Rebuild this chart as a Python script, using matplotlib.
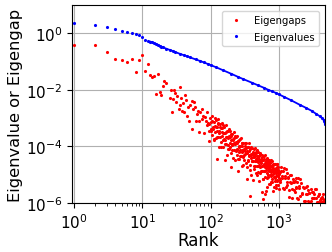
import matplotlib
matplotlib.use("Agg")
import matplotlib.pyplot as plt

# eigenvalues (rank -> value)
eig_rank = [1, 2, 3, 4, 5, 6, 7, 8, 9, 10, 11, 12, 13, 14, 15, 16, 17, 18, 19, 20,
            22, 25, 28, 30, 35, 40, 45, 50, 60, 70, 80, 90, 100, 120, 150, 200, 250,
            300, 400, 500, 600, 700, 800, 900, 1000, 1200, 1500, 2000, 2500, 3000,
            3500, 4000, 4300, 4500, 4600, 4680, 4730]
eig_val = [2.4, 2.0, 1.63, 1.38, 1.25, 1.14, 1.05, 0.93, 0.88, 0.77, 0.60, 0.55, 0.51,
           0.48, 0.45, 0.42, 0.39, 0.36, 0.34, 0.32, 0.29, 0.26, 0.235, 0.22, 0.19,
           0.17, 0.155, 0.14, 0.12, 0.105, 0.093, 0.083, 0.075, 0.063, 0.050, 0.037,
           0.029, 0.024, 0.018, 0.0143, 0.0119, 0.0100, 0.0088, 0.0078, 0.0069,
           0.0056, 0.0043, 0.0030, 0.0023, 0.00182, 0.00142, 0.00115, 0.00098,
           0.00086, 0.00078, 0.00068, 0.00060]

# eigengaps (rank -> value)
gap_rank = [1, 2, 3, 4, 5, 6, 7, 8, 9, 10, 11, 12, 13, 14, 15, 16, 17, 18, 19, 20,
            21, 22, 25, 26, 27, 28, 29, 30, 31, 32, 34, 35, 36, 37, 38, 39, 40, 42,
            44, 45, 47, 48, 50, 53, 54, 55, 56, 59, 60, 62, 66, 67, 68, 70, 74, 75,
            78, 79, 83, 84, 88, 89, 92, 93, 94,
            96, 98, 100, 102, 104, 106, 108, 110, 112, 114, 116, 118, 120, 122, 123,
            124, 126, 128, 130, 132, 134, 136, 138, 140, 142, 144, 146, 148, 150,
            152, 155, 157, 160, 162, 163, 165, 167, 170, 172, 175, 177, 180, 182,
            185, 187, 190, 192, 195, 197, 200, 201, 203, 205, 208, 210, 213, 216,
            219, 222, 225, 228, 231, 234, 237, 240, 243, 246, 250, 253, 255, 256,
            260, 263, 266, 270, 273, 276, 280, 284, 288, 292, 296, 300,
            305, 311, 317, 323, 329, 335, 338, 341, 347, 353, 359, 365, 371, 377,
            380, 383, 389, 395, 401, 407, 413, 419, 422, 425, 431, 437, 443, 449,
            455, 461, 467, 473, 479, 485, 491, 497, 503, 510, 517, 524, 531, 538,
            545, 552, 559, 562, 566, 573, 580, 587, 590, 594, 601, 608, 615, 622,
            626, 629, 636, 643, 650, 652, 657, 664, 671, 678, 685, 692, 700, 708,
            716, 724, 732, 740, 748, 756, 764, 772, 780, 788, 796, 805, 814, 823,
            832, 841, 850, 860, 870, 880, 890, 900, 910, 920, 930, 940, 950, 960,
            970, 980, 990, 1000,
            1020, 1050, 1080, 1110, 1150, 1190, 1230, 1270, 1310, 1350, 1400, 1450,
            1500, 1550, 1600, 1650, 1700, 1750, 1800, 1860, 1920, 1980, 2050, 2150,
            2250, 2350, 2450, 2550, 2650, 2750, 2850, 2950, 3050, 3150, 3300, 3450,
            3600, 3750, 3900, 4050, 4200, 4350, 4500, 4620,
            101, 105, 109, 113, 117, 121, 125, 129, 133, 137, 141, 145, 149, 153,
            159, 164, 169, 173, 179, 183, 189, 193, 199, 207, 211, 215, 221, 227,
            233, 239, 245, 249, 257, 261, 267, 271, 279, 283, 287, 291, 295, 299,
            308, 314, 320, 326, 332, 344, 350, 356, 362, 368, 374, 386, 392, 398,
            404, 410, 416, 428, 434, 440, 446, 452, 458, 464, 470, 476, 482, 488,
            494, 500, 507, 514, 521, 528, 535, 542, 549, 556, 569, 576, 583, 597,
            604, 611, 618, 632, 639, 646, 660, 667, 674, 681, 688, 696, 704, 712,
            720, 728, 736, 744, 752, 760, 768, 776, 784, 792, 800, 809, 818, 827,
            836, 845, 855, 865, 875, 885, 895, 905, 915, 925, 935, 945, 955, 965,
            975, 985, 995,
            1035, 1065, 1095, 1130, 1170, 1210, 1250, 1290, 1330, 1375, 1425, 1475,
            1525, 1575, 1625, 1675, 1725, 1775, 1830, 1890, 1950, 2010, 2100, 2200,
            2300, 2400, 2500, 2600, 2700, 2800, 2900, 3000, 3100, 3220, 3380, 3520,
            3680, 3820, 3980, 4120, 4280, 4420]
gap_val = [0.39, 0.40, 0.224, 0.127, 0.114, 0.097, 0.127, 0.044, 0.117, 0.176,
           0.045, 0.085, 0.034, 0.028, 0.032, 0.0072, 0.035, 0.0082, 0.0066, 0.014,
           0.020, 0.0175, 0.005, 0.0102, 0.0017, 0.0048, 0.0102, 0.0076, 0.0036,
           0.0063, 0.0021, 0.0124, 0.0028, 0.005, 0.0018, 0.0035, 0.0016, 0.0066,
           0.0045, 0.00123, 0.0024, 0.00082, 0.0028, 0.0042, 0.00042, 0.0021,
           0.0036, 0.0024, 0.00082, 0.0014, 0.0018, 0.00082, 0.00032, 0.0016,
           0.0021, 0.00094, 0.00123, 0.00031, 0.00107, 0.00082, 0.0016, 0.00055,
           0.0007, 0.00036, 0.00016,
           6.0e-4, 1.05e-3, 3.5e-4, 7.4e-4, 2.5e-4, 1.15e-3, 4.2e-4, 7.5e-4, 1.7e-4,
           5.2e-4, 3.2e-4, 8.7e-4, 2.0e-4, 4.8e-4, 3.6e-5, 3.6e-4, 9.5e-4, 2.1e-4,
           6.1e-4, 9.5e-5, 3.6e-4, 6.3e-4, 2.1e-4, 4.3e-4, 1.45e-4, 6.6e-4, 2.3e-4,
           4.4e-4, 9.5e-5, 3.0e-4, 1.85e-4, 4.8e-4, 1.2e-4, 2.9e-4, 3.2e-5, 2.1e-4,
           5.5e-4, 1.2e-4, 3.4e-4, 5.1e-5, 2.0e-4, 3.4e-4, 1.15e-4, 2.3e-4, 8.1e-5,
           3.6e-4, 1.35e-4, 2.4e-4, 5.7e-5, 1.7e-4, 1.85e-5, 1.08e-4, 2.8e-4, 7.4e-5,
           1.7e-4, 1.26e-4, 3.2e-4, 7.3e-5, 2.0e-4, 3.2e-5, 1.2e-4, 2.2e-4, 7.0e-5,
           1.45e-4, 5.0e-5, 2.3e-4, 8.2e-5, 1.5e-4, 3.5e-5, 1.4e-5, 1.07e-4, 6.5e-5,
           1.75e-4, 4.6e-5, 1.03e-4, 7.7e-5, 2.0e-4, 4.4e-5, 1.28e-4, 2.0e-5, 7.5e-5,
           1.35e-4, 4.3e-5,
           8.4e-5, 3.4e-5, 1.35e-4, 5.3e-5, 9.0e-5, 1.9e-5, 7.1e-6, 6.0e-5, 9.9e-5,
           3.4e-5, 1.27e-4, 4.9e-5, 2.2e-5, 7.8e-5, 1.8e-6, 3.9e-5, 5.3e-5, 9.4e-6,
           8.7e-5, 3.0e-5, 5.9e-5, 4.3e-5, 6.3e-6, 5.1e-5, 2.1e-5, 8.0e-5, 3.1e-5,
           5.2e-5, 1.1e-5, 3.6e-5, 5.9e-5, 2.1e-5, 7.6e-5, 2.9e-5, 1.25e-5, 4.6e-5,
           2.25e-5, 3.3e-5, 6.0e-6, 5.3e-5, 1.8e-5, 3.6e-5, 2.65e-5, 3.1e-5, 1.3e-5,
           2.4e-6, 5.0e-5, 2.0e-5, 3.4e-5, 7.0e-6, 1.4e-6, 2.25e-5, 3.7e-5, 1.3e-5,
           4.9e-5, 1.9e-5, 2.1e-6, 8.2e-6, 3.0e-5, 1.45e-5, 2.1e-5, 2.7e-6, 3.8e-6,
           3.5e-5, 1.17e-5, 2.3e-5, 1.75e-5, 2.0e-5, 8.3e-6, 3.3e-5, 1.3e-5, 2.2e-5,
           4.7e-6, 1.5e-5, 2.5e-5, 8.8e-6, 3.3e-5, 1.26e-5, 5.6e-6, 2.0e-5, 9.8e-6,
           1.43e-5, 2.6e-6, 2.4e-5, 8.1e-6, 1.6e-5, 1.22e-5, 1.45e-5, 6.0e-6, 2.3e-5,
           9.2e-6, 1.6e-5, 3.4e-6, 1.1e-5, 1.85e-5, 6.5e-6, 2.4e-5, 9.5e-6, 4.2e-6,
           1.5e-5, 7.6e-6, 1.1e-5,
           1.27e-5, 5.6e-6, 1.8e-5, 7.8e-6, 1.3e-5, 3.0e-6, 7.8e-6, 1.6e-5, 4.4e-6,
           8.4e-6, 2.8e-6, 9.5e-6, 5.0e-6, 1.45e-6, 6.8e-6, 5.6e-6, 2.5e-6, 7.8e-6,
           3.3e-6, 5.6e-6, 1.35e-6, 3.5e-6, 7.2e-6, 2.0e-6, 3.6e-6, 1.2e-6, 3.8e-6,
           2.0e-6, 2.85e-6, 2.3e-6, 1.05e-6, 3.2e-6, 1.45e-6, 2.4e-6, 1.55e-6, 3.1e-6,
           1.12e-6, 1.7e-6, 2.1e-6, 1.1e-6, 1.6e-6, 1.35e-6, 1.15e-6, 1.3e-6,
           4.1e-4, 8.1e-4, 5.0e-4, 1.9e-4, 9.9e-4, 4.9e-4, 2.2e-4, 6.5e-4, 3.1e-4,
           4.7e-4, 9.9e-5, 3.2e-4, 5.5e-4, 1.7e-4, 3.1e-4, 1.65e-4, 3.3e-4, 2.1e-4,
           7.8e-5, 4.1e-4, 2.1e-4, 9.2e-5, 2.7e-4, 1.23e-4, 1.86e-4, 4.0e-5, 1.34e-4,
           2.4e-4, 7.3e-5, 1.34e-4, 7.3e-5, 1.5e-4, 9.5e-5, 3.7e-5, 1.9e-4, 1.02e-4,
           4.5e-5, 1.34e-4, 6.5e-5, 1.0e-4, 2.2e-5, 7.6e-5,
           4.9e-5, 1.02e-4, 6.6e-5, 2.6e-5, 1.36e-4, 7.1e-5, 3.1e-5, 9.4e-5, 4.5e-5,
           7.0e-5, 1.5e-5, 5.1e-5, 9.6e-5, 3.0e-5, 5.6e-5, 3.1e-5, 6.5e-5, 4.1e-5,
           1.6e-5, 8.6e-5, 4.5e-5, 2.0e-5, 6.1e-5, 3.0e-5, 4.6e-5, 1.0e-5, 3.4e-5,
           6.3e-5, 2.0e-5, 3.75e-5, 2.1e-5, 4.4e-5, 2.85e-5, 1.1e-5, 5.9e-5, 3.2e-5,
           1.4e-5, 4.3e-5, 2.1e-5, 3.2e-5, 7.0e-6, 2.4e-5, 4.4e-5, 1.4e-5, 2.6e-5,
           1.4e-5, 3.0e-5, 1.9e-5, 7.4e-6, 4.0e-5, 2.1e-5, 9.6e-6, 2.9e-5, 1.43e-5,
           2.2e-5, 4.8e-6, 1.66e-5, 3.1e-5, 9.9e-6, 1.85e-5, 1.0e-5, 2.1e-5, 1.4e-5,
           5.5e-6, 3.0e-5, 1.6e-5, 7.2e-6, 2.2e-5, 1.07e-5, 1.7e-5, 3.7e-6, 1.28e-5,
           2.4e-5, 7.7e-6, 1.46e-5, 8.1e-6, 1.7e-5, 1.13e-5, 4.4e-6, 2.4e-5, 1.3e-5,
           5.8e-6, 1.8e-5, 8.8e-6, 1.38e-5, 3.0e-6, 1.05e-5,
           6.7e-6, 1.4e-5, 8.9e-6, 3.4e-6, 1.7e-5, 8.9e-6, 3.8e-6, 1.1e-5, 5.3e-6,
           7.8e-6, 1.6e-6, 5.4e-6, 9.8e-6, 3.0e-6, 5.5e-6, 2.9e-6, 6.0e-6, 3.8e-6,
           1.45e-6, 7.5e-6, 4.0e-6, 1.75e-6, 4.9e-6, 2.25e-6, 3.3e-6, 1.15e-6,
           2.15e-6, 3.9e-6, 1.2e-6, 2.2e-6, 1.15e-6, 2.4e-6, 1.55e-6, 2.0e-6, 3.0e-6,
           1.55e-6, 1.1e-6, 2.0e-6, 1.25e-6, 1.45e-6, 1.1e-6, 2.0e-6]

fig = plt.figure(figsize=(3.32, 2.53), dpi=100)
ax = fig.add_axes([0.217, 0.194, 0.762, 0.782])

ax.plot(gap_rank, gap_val, '.', color='red', ms=2.5, label='Eigengaps')
ax.plot(eig_rank, eig_val, '.', color='blue', ms=2.5, label='Eigenvalues')
# the dense part of the eigenvalue curve merges into a line
dense = [i for i, r in enumerate(eig_rank) if r >= 13]
ax.plot([eig_rank[i] for i in dense], [eig_val[i] for i in dense], '-',
        color='blue', lw=1.3)

ax.set_xscale('log')
ax.set_yscale('log')
ax.set_xlim(0.93, 4730)
ax.set_ylim(1e-6, 10)
ax.set_yticks([1e-6, 1e-4, 1e-2, 1])
ax.grid(True, which='major', color='#b0b0b0', lw=0.8)
ax.tick_params(labelsize=11)

ax.set_xlabel('Rank', fontsize=12, labelpad=0)
ax.set_ylabel('Eigenvalue or Eigengap', fontsize=11.7, labelpad=2)
ax.legend(loc='upper right', fontsize=7.2, labelspacing=0.65,
          borderaxespad=0.6)

fig.savefig('out.png', dpi=100)
